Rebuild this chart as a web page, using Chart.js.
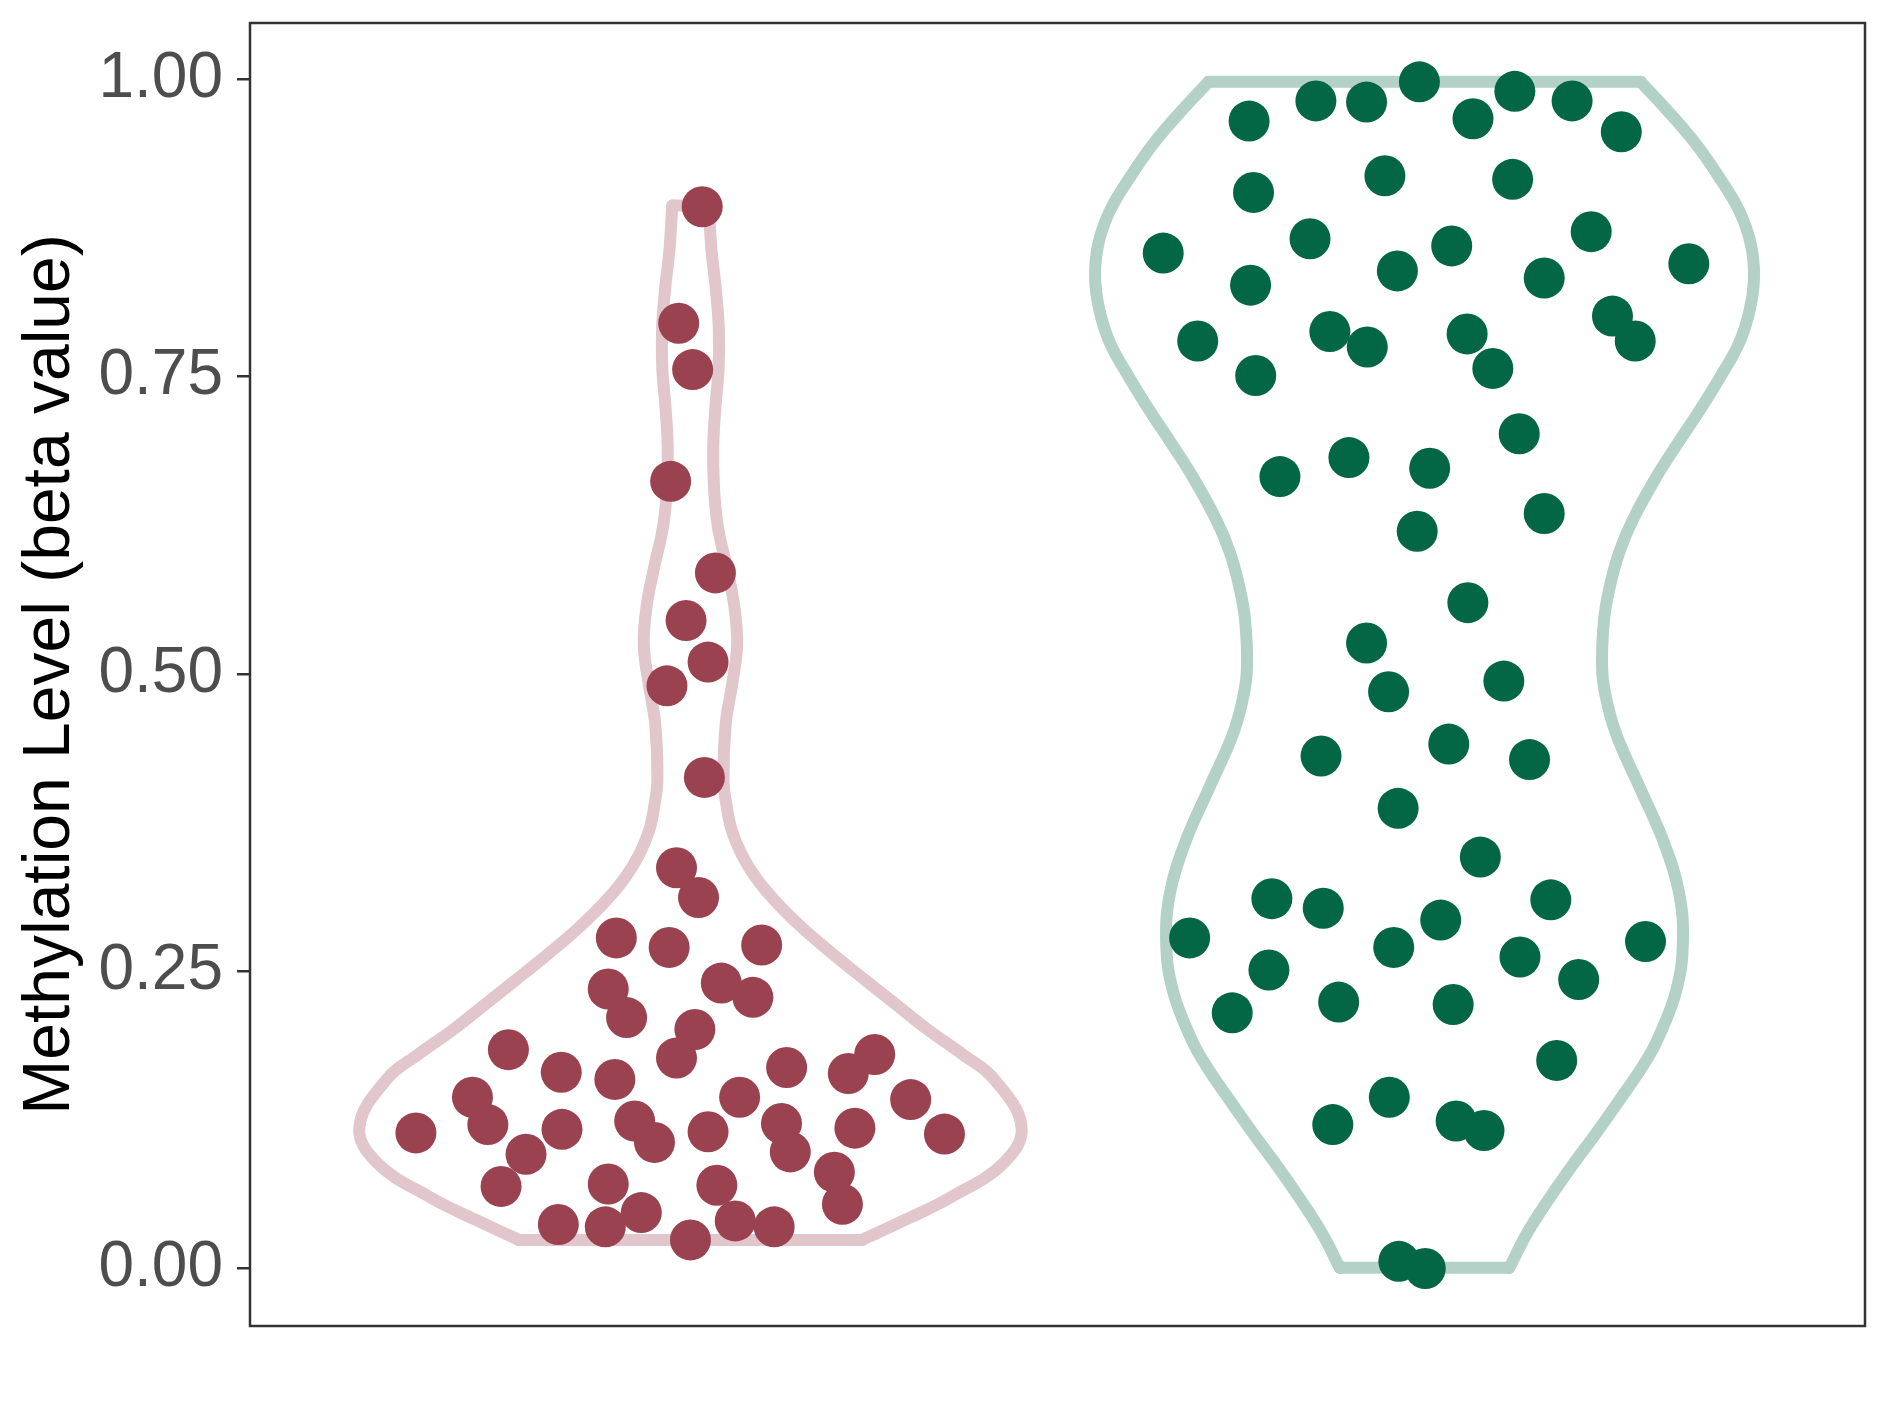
<!DOCTYPE html>
<html>
<head>
<meta charset="utf-8">
<title>Methylation Level violin</title>
<script src="https://cdn.jsdelivr.net/npm/chart.js@4.4.1/dist/chart.umd.min.js"></script>
<style>
  html, body { margin: 0; padding: 0; background: #ffffff; }
  #wrap { width: 1889px; height: 1417px; }
</style>
</head>
<body>
<div id="wrap"><canvas id="violinChart" width="1889" height="1417"></canvas></div>
<script>
// group positions on the (hidden) x axis
const groupPos = [1, 2];

// y axis
const yTicks = [0, 0.25, 0.5, 0.75, 1.0];
const yMin = -0.0484;
const yMax = 1.0475;

// red group: jittered x position and beta value of every sample
const redX = [1.016, 0.984, 1.003, 0.973, 1.034, 0.994, 1.024, 0.968, 1.019,
  0.981, 1.011, 0.899, 0.971, 0.888, 0.913, 1.006, 0.981, 0.752, 0.824, 0.897,
  0.703, 0.724, 0.626, 0.825, 0.924, 0.951, 0.776, 1.024, 0.742, 0.888, 0.933,
  0.820, 0.884, 1.000,
  1.097, 1.042, 1.085, 1.131, 1.251, 1.215, 1.067, 1.300, 1.124, 1.136, 1.224,
  1.346, 1.196, 1.207, 1.036, 1.061, 1.114];
const redBeta = [0.893, 0.795, 0.756, 0.662, 0.585, 0.545, 0.510, 0.490, 0.413,
  0.337, 0.312, 0.278, 0.270, 0.235, 0.211, 0.201, 0.177, 0.184, 0.165, 0.159,
  0.144, 0.121, 0.114, 0.117, 0.124, 0.106, 0.096, 0.115, 0.069, 0.071, 0.047,
  0.037, 0.035, 0.024,
  0.272, 0.240, 0.228, 0.169, 0.180, 0.164, 0.144, 0.142, 0.122, 0.098, 0.118,
  0.113, 0.081, 0.054, 0.070, 0.040, 0.035];

// green group
const greenX = [1.761, 1.852, 1.921, 1.993, 2.066, 2.123, 2.201, 2.268, 1.767,
  1.946, 2.120, 1.644, 1.844, 2.037, 2.227, 2.360, 1.763, 1.963, 2.163, 2.256,
  2.287, 1.691, 1.871, 1.922, 2.058, 2.093, 1.770, 2.129, 1.803, 1.897, 2.007,
  2.163, 1.990, 2.059, 1.921, 1.951, 2.108, 1.859, 2.033, 2.143, 1.964, 2.076,
  1.792, 1.862, 2.022, 2.172, 1.680, 1.958, 2.301, 2.130, 1.788, 2.210, 1.738,
  1.883, 2.039, 2.180, 1.952, 1.875, 2.043, 2.081, 1.965, 2.001];
const greenBeta = [0.965, 0.982, 0.981, 0.998, 0.967, 0.990, 0.982, 0.956, 0.905,
  0.919, 0.916, 0.854, 0.866, 0.860, 0.872, 0.845, 0.827, 0.839, 0.833, 0.801,
  0.780, 0.780, 0.788, 0.775, 0.786, 0.757, 0.751, 0.702, 0.666, 0.682, 0.673,
  0.635, 0.620, 0.560, 0.526, 0.485, 0.494, 0.431, 0.441, 0.428, 0.387, 0.346,
  0.311, 0.303, 0.293, 0.310, 0.278, 0.270, 0.275, 0.262, 0.251, 0.243, 0.215,
  0.224, 0.222, 0.175, 0.144, 0.121, 0.124, 0.116, 0.006, 0.000];

// violin outlines: half width read at each beta level
const redViolinY = [0.024, 0.041, 0.060, 0.089, 0.119, 0.159,
  0.180, 0.201, 0.222, 0.243, 0.264, 0.285, 0.306, 0.327, 0.348, 0.369, 0.390,
  0.411, 0.458, 0.492, 0.525, 0.558, 0.591, 0.625, 0.658, 0.691, 0.724,
  0.758, 0.791, 0.824, 0.857, 0.894];
const redViolinHalf = [0.234, 0.293, 0.355, 0.427, 0.451, 0.414,
  0.371, 0.323, 0.280, 0.237, 0.195, 0.155, 0.120, 0.091, 0.070, 0.056, 0.049,
  0.045, 0.048, 0.057, 0.0636, 0.0595, 0.049, 0.037, 0.032, 0.031, 0.034,
  0.0384, 0.0386, 0.0345, 0.0286, 0.0248];

const greenViolinY = [0.0005, 0.030, 0.058, 0.086, 0.114, 0.142, 0.170, 0.192, 0.234,
  0.276, 0.318, 0.360, 0.402, 0.447, 0.475, 0.503, 0.545, 0.573, 0.602, 0.630,
  0.666, 0.694, 0.722, 0.750, 0.778, 0.806, 0.834, 0.862, 0.890, 0.918, 0.946,
  0.974, 0.998];
const greenViolinHalf = [0.1155, 0.140, 0.169, 0.2005, 0.234, 0.266, 0.297, 0.317, 0.343,
  0.352, 0.346, 0.325, 0.295, 0.2625, 0.249, 0.242, 0.2444, 0.2522, 0.265, 0.284,
  0.316, 0.345, 0.375, 0.403, 0.4283, 0.4429, 0.4488, 0.4443, 0.4283, 0.401, 0.3693,
  0.3307, 0.2944];

const redDot = "#9A4250";
const redLine = "#E1C6CB";
const greenDot = "#036645";
const greenLine = "#B3D1C7";

function pts(xs, ys) {
  return xs.map((x, i) => ({ x: x, y: ys[i] }));
}

// one side of a violin (sign -1 left, +1 right)
function side(center, ys, half, sign) {
  return ys.map((y, i) => ({ x: center + sign * half[i], y: y }));
}

// flat bottom and top of a violin
function caps(center, ys, half) {
  const n = ys.length - 1;
  return [
    { x: center - half[0], y: ys[0] },
    { x: center + half[0], y: ys[0] },
    { x: center, y: null },
    { x: center - half[n], y: ys[n] },
    { x: center + half[n], y: ys[n] },
  ];
}

function outline(data, color, smooth) {
  return {
    data: data,
    showLine: true,
    borderColor: color,
    borderWidth: 12,
    borderCapStyle: "round",
    borderJoinStyle: "round",
    tension: smooth ? 0.4 : 0,
    spanGaps: false,
    pointRadius: 0,
    pointHoverRadius: 0,
    fill: false,
    order: 2,
  };
}

function dots(data, color) {
  return {
    data: data,
    backgroundColor: color,
    borderWidth: 0,
    pointRadius: 20.5,
    pointHoverRadius: 20.5,
    order: 1,
  };
}

// ggplot style panel border round the plot area
const panelBorder = {
  id: "panelBorder",
  afterDatasetsDraw(chart) {
    const { ctx, chartArea: a } = chart;
    ctx.save();
    ctx.strokeStyle = "#333333";
    ctx.lineWidth = 2.5;
    ctx.strokeRect(a.left, a.top, a.right - a.left, a.bottom - a.top);
    ctx.restore();
  },
};

document.addEventListener("DOMContentLoaded", function () {
  const ctx = document.getElementById("violinChart").getContext("2d");
  new Chart(ctx, {
    type: "scatter",
    data: {
      datasets: [
        outline(side(groupPos[0], redViolinY, redViolinHalf, -1), redLine, true),
        outline(side(groupPos[0], redViolinY, redViolinHalf, 1), redLine, true),
        outline(caps(groupPos[0], redViolinY, redViolinHalf), redLine, false),
        outline(side(groupPos[1], greenViolinY, greenViolinHalf, -1), greenLine, true),
        outline(side(groupPos[1], greenViolinY, greenViolinHalf, 1), greenLine, true),
        outline(caps(groupPos[1], greenViolinY, greenViolinHalf), greenLine, false),
        dots(pts(redX, redBeta), redDot),
        dots(pts(greenX, greenBeta), greenDot),
      ],
    },
    options: {
      responsive: false,
      animation: false,
      devicePixelRatio: 1,
      layout: {
        padding: { left: 0, top: 23, right: 24, bottom: 91 },
      },
      plugins: {
        legend: { display: false },
        tooltip: { enabled: false },
      },
      scales: {
        x: {
          type: "linear",
          min: 0.4,
          max: 2.6,
          display: false,
        },
        y: {
          type: "linear",
          min: yMin,
          max: yMax,
          afterFit: function (scale) {
            scale.width = 250;
            scale.paddingTop = 0;
            scale.paddingBottom = 0;
          },
          afterBuildTicks: function (scale) {
            scale.ticks = yTicks.map((v) => ({ value: v }));
          },
          grid: {
            display: true,
            drawOnChartArea: false,
            drawTicks: true,
            tickLength: 13,
            color: "#333333",
            lineWidth: 2.5,
          },
          border: { display: false },
          ticks: {
            padding: 14,
            color: "#4D4D4D",
            font: { family: "'Liberation Sans', Arial, sans-serif", size: 64 },
            callback: (v) => Number(v).toFixed(2),
          },
          title: {
            display: true,
            text: "Methylation Level (beta value)",
            color: "#000000",
            font: { family: "'Liberation Sans', Arial, sans-serif", size: 66 },
            padding: { top: 11, bottom: 0 },
          },
        },
      },
    },
    plugins: [panelBorder],
  });
});
</script>
</body>
</html>
